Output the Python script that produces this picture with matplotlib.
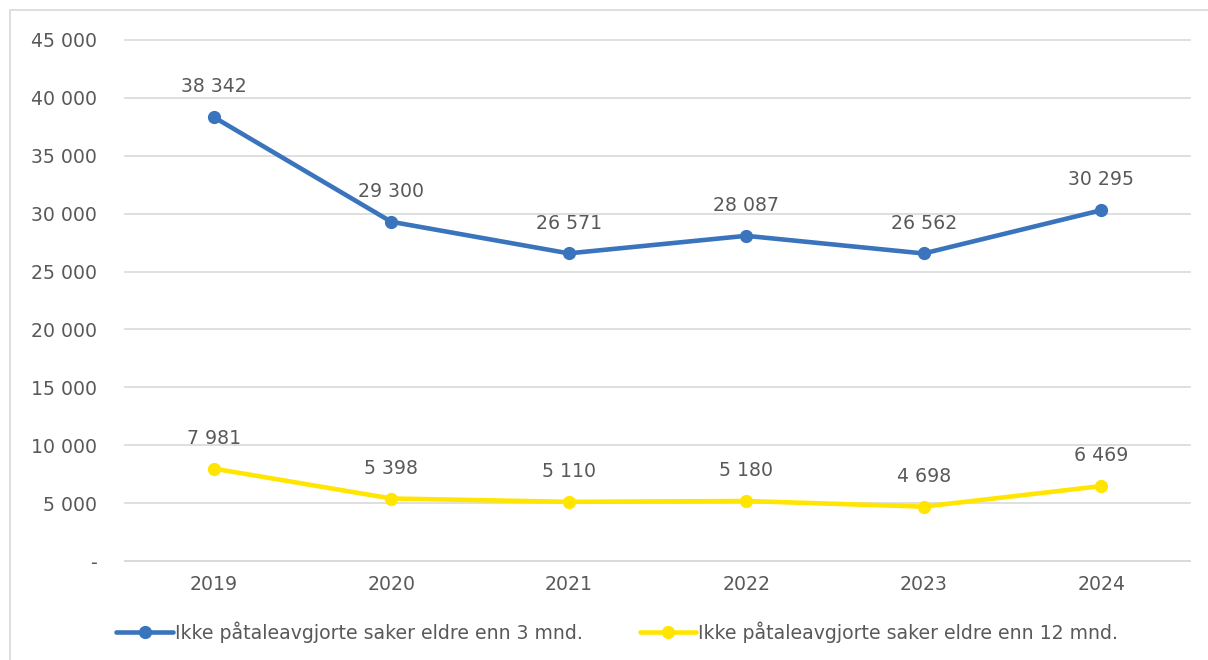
import matplotlib
matplotlib.use('Agg')
import matplotlib.pyplot as plt
from matplotlib.patches import Rectangle
from matplotlib.ticker import FuncFormatter, MultipleLocator

# Values
years = ['2019', '2020', '2021', '2022', '2023', '2024']
over_3_months = [38342, 29300, 26571, 28087, 26562, 30295]
over_12_months = [7981, 5398, 5110, 5180, 4698, 6469]
series_names = ['Ikke påtaleavgjorte saker eldre enn 3 mnd.',
                'Ikke påtaleavgjorte saker eldre enn 12 mnd.']

BLUE = '#3a74bc'
YELLOW = '#ffe500'
TEXT = '#595959'
GRID = '#d9d9d9'
FS = 13.6

plt.rcParams['font.family'] = 'sans-serif'
plt.rcParams['font.sans-serif'] = ['DejaVu Sans']
plt.rcParams['font.size'] = FS


def fmt_thousands(v, pos=None):
    if v == 0:
        return '-'
    return f'{v:,.0f}'.replace(',', ' ')


fig = plt.figure(figsize=(12.08, 6.6), dpi=100)
ax = fig.add_axes([0.1035, 0.15, 0.8815, 0.7894])

# Light frame around the chart area, cut off at right and bottom like the reference
fig.patches.append(Rectangle((10 / 1208, -0.01), 1.1, 1 - 10 / 660 + 0.01,
                             transform=fig.transFigure, fill=False,
                             edgecolor=GRID, linewidth=1.2))

x = range(len(years))
for values, color, name in [(over_3_months, BLUE, series_names[0]),
                            (over_12_months, YELLOW, series_names[1])]:
    ax.plot(x, values, color=color, linewidth=3.3, marker='o', markersize=8.5,
            solid_capstyle='round', label=name, zorder=3)
    for xi, v in zip(x, values):
        ax.annotate(fmt_thousands(v), (xi, v), xytext=(0, 15),
                    textcoords='offset points', ha='center', va='bottom',
                    color=TEXT, fontsize=FS)

ax.set_xlim(-0.5, len(years) - 0.5)
ax.set_ylim(0, 45000)
ax.yaxis.set_major_locator(MultipleLocator(5000))
ax.yaxis.set_major_formatter(FuncFormatter(fmt_thousands))
ax.set_xticks(list(x))
ax.set_xticklabels(years)

ax.grid(axis='y', color=GRID, linewidth=1.2)
for gl in ax.get_ygridlines():
    gl.set_clip_on(False)
ax.set_axisbelow(True)
for side in ['top', 'right', 'left']:
    ax.spines[side].set_visible(False)
ax.spines['bottom'].set_color(GRID)
ax.spines['bottom'].set_linewidth(1.2)
ax.tick_params(axis='both', length=0, colors=TEXT, labelsize=FS)
ax.tick_params(axis='y', pad=20)
ax.tick_params(axis='x', pad=10)

fig.legend(loc='center', bbox_to_anchor=(0.511, 0.042), ncol=2, frameon=False,
           handlelength=3.0, handletextpad=0.1, columnspacing=3.0,
           labelcolor=TEXT, fontsize=FS)

fig.savefig('out.png', dpi=100)
